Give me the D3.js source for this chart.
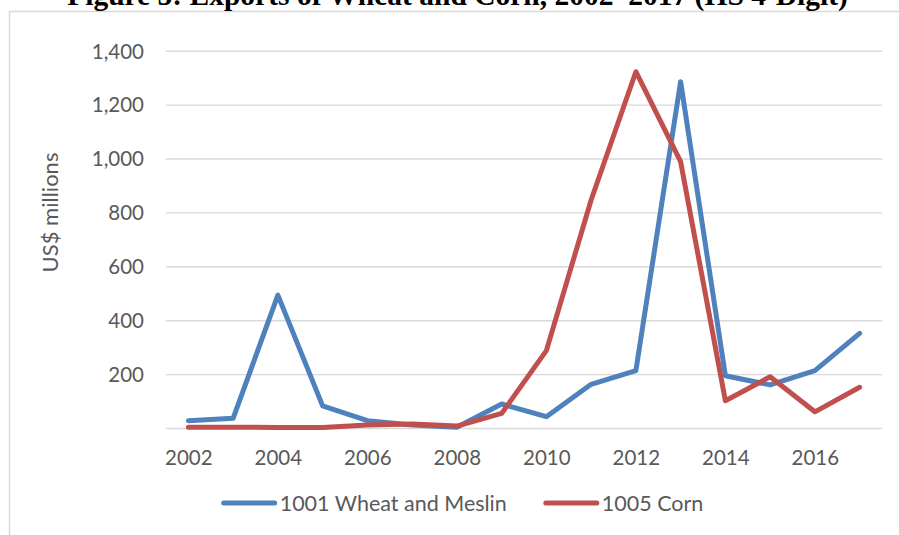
<!DOCTYPE html>
<html>
<head>
<meta charset="utf-8">
<script src="https://d3js.org/d3.v7.min.js"></script>
<style>
  body { margin: 0; background: #fff; }
  svg { display: block; }
  .lbl { font-family: Lato, "Open Sans", sans-serif; fill: #595959; }
</style>
</head>
<body>
<svg id="chart" width="899" height="535"></svg>
<script>
// values (US$ millions)
const years = [2002, 2003, 2004, 2005, 2006, 2007, 2008, 2009, 2010, 2011, 2012, 2013, 2014, 2015, 2016, 2017];
const wheat = [27, 36, 493, 82, 27, 11, 3, 89, 42, 162, 213, 1285, 194, 160, 213, 351];
const corn = [3, 3, 2, 2, 11, 15, 7, 54, 287, 846, 1322, 988, 101, 190, 60, 151];
const xTickYears = [2002, 2004, 2006, 2008, 2010, 2012, 2014, 2016];
const yTickValues = [200, 400, 600, 800, 1000, 1200, 1400];
const gridValues = [0, 200, 400, 600, 800, 1000, 1200, 1400];
const seriesNames = ["1001 Wheat and Meslin", "1005 Corn"];
const seriesColors = ["#4f81bd", "#c0504d"];
const titleText = "Figure 5: Exports of Wheat and Corn, 2002\u20132017 (HS 4-Digit)";
const yTitle = "US$ millions";

let svg = d3.select("#chart");
let plot = {left: 166, right: 882, top: 50.7, bottom: 428};

let x = d3.scalePoint().domain(years).range([plot.left, plot.right]).padding(0.5);
let y = d3.scaleLinear().domain([0, 1400]).range([plot.bottom, plot.top]);

// chart frame (only top/left edges fall inside the picture)
svg.append("rect")
  .attr("x", 9.5).attr("y", 11.5)
  .attr("width", 1000).attr("height", 1000)
  .attr("fill", "none")
  .attr("stroke", "#d9d9d9")
  .attr("stroke-width", 1.5);

// title, cut off by the top edge like in the source page
svg.append("text")
  .attr("x", 457.5).attr("y", 5)
  .attr("text-anchor", "middle")
  .style("font-family", "'Liberation Serif', 'Times New Roman', serif")
  .style("font-weight", "bold")
  .style("font-size", "29.5px")
  .attr("fill", "#000")
  .text(titleText);

// gridlines
let grid = svg.append("g")
  .attr("transform", "translate(" + plot.left + ",0)")
  .call(d3.axisLeft(y).tickValues(gridValues).tickSize(-(plot.right - plot.left)).tickFormat(""));
grid.select(".domain").remove();
grid.selectAll("line").attr("stroke", "#d9d9d9").attr("stroke-width", 1.4);

// y tick labels
let yAxis = svg.append("g")
  .attr("transform", "translate(" + plot.left + ",0)")
  .call(d3.axisLeft(y).tickValues(yTickValues).tickSize(0).tickPadding(22).tickFormat(d3.format(",")));
yAxis.select(".domain").remove();
yAxis.selectAll("text")
  .attr("class", "lbl")
  .attr("dy", "0.36em")
  .style("font-size", "20.5px");

// x tick labels
let xAxis = svg.append("g")
  .attr("transform", "translate(0," + plot.bottom + ")")
  .call(d3.axisBottom(x).tickValues(xTickYears).tickSize(0));
xAxis.select(".domain").remove();
xAxis.selectAll("text")
  .attr("class", "lbl")
  .attr("y", 37).attr("dy", 0)
  .style("font-size", "20.5px");

// y axis title
svg.append("text")
  .attr("class", "lbl")
  .attr("transform", "translate(58,212.5) rotate(-90)")
  .attr("text-anchor", "middle")
  .style("font-size", "22px")
  .text(yTitle);

// series lines
let line = d3.line()
  .x(function(d, i) { return x(years[i]); })
  .y(function(d) { return y(d); });

[wheat, corn].forEach(function(vals, i) {
  svg.append("path")
    .datum(vals)
    .attr("d", line)
    .attr("fill", "none")
    .attr("stroke", seriesColors[i])
    .attr("stroke-width", 5)
    .attr("stroke-linejoin", "round")
    .attr("stroke-linecap", "round");
});

// legend, laid out from the measured text widths
let legend = svg.append("g");
let items = seriesNames.map(function(name, i) {
  let g = legend.append("g");
  g.append("line")
    .attr("x1", 0).attr("x2", 51)
    .attr("y1", 0).attr("y2", 0)
    .attr("stroke", seriesColors[i])
    .attr("stroke-width", 5)
    .attr("stroke-linecap", "round");
  let t = g.append("text")
    .attr("class", "lbl")
    .attr("x", 56).attr("y", 0).attr("dy", "0.36em")
    .style("font-size", "21.5px")
    .text(name);
  return {g: g, w: 56 + t.node().getComputedTextLength()};
});
let gap = 39;
let total = d3.sum(items, function(d) { return d.w; }) + gap * (items.length - 1);
let lx = 463.5 - total / 2;
items.forEach(function(it) {
  it.g.attr("transform", "translate(" + lx + ",503)");
  lx += it.w + gap;
});
</script>
</body>
</html>
